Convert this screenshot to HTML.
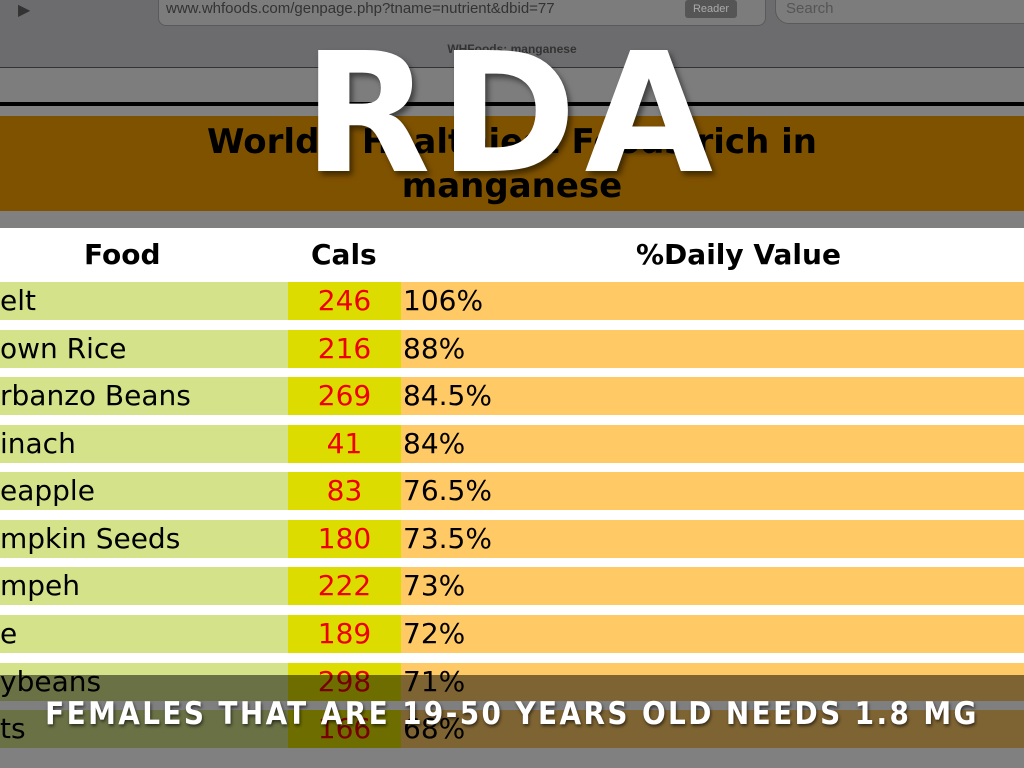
<!DOCTYPE html>
<html><head><style>
body{margin:0;width:1024px;height:768px;overflow:hidden;background:#808080;font-family:"DejaVu Sans","Liberation Sans",sans-serif;position:relative}
.a{position:absolute}
.row{position:absolute;left:0;width:1024px;height:38px;font-size:28px;line-height:38px;color:#000}
.f{position:absolute;left:0;width:288px;height:38px;background:#d4e38a}
.c{position:absolute;left:288px;width:113px;height:38px;background:#dcdc00;color:#e00;text-align:center}
.v{position:absolute;left:401px;right:0;height:38px;background:#ffc966;padding-left:2px}
</style></head><body>
<div class="a" style="left:0;top:0;width:1024px;height:68px;background:#6c6c6f"></div>
<div class="a" style="left:158px;top:-12px;width:606px;height:36px;border-radius:8px;background:#7c7c7c;border:1px solid #5a5a5a"></div>
<div class="a" style="left:166px;top:0;font-family:'Liberation Sans',sans-serif;font-size:15px;color:#333">www.whfoods.com/genpage.php?tname=nutrient&amp;dbid=77</div>
<div class="a" style="left:685px;top:0;width:52px;height:18px;background:#555;border-radius:3px;color:#aaa;font:11px 'Liberation Sans',sans-serif;text-align:center;line-height:18px">Reader</div>
<div class="a" style="left:18px;top:0;font-size:16px;color:#333">▶</div>
<div class="a" style="left:775px;top:-12px;width:260px;height:34px;border-radius:14px;background:#7c7c7c;border:1px solid #5a5a5a"></div>
<div class="a" style="left:786px;top:0;font:15px 'Liberation Sans',sans-serif;color:#555">Search</div>
<div class="a" style="left:0;top:42px;width:1024px;text-align:center;font:bold 12px 'Liberation Sans',sans-serif;color:#333">WHFoods: manganese</div>
<div class="a" style="left:0;top:67px;width:1024px;height:1px;background:#333"></div>
<div class="a" style="left:0;top:68px;width:1024px;height:34px;background:#7d7d7d"></div>
<div class="a" style="left:0;top:102px;width:1024px;height:4px;background:#000"></div>
<div class="a" style="left:0;top:106px;width:1024px;height:10px;background:#808080"></div>
<div class="a" style="left:0;top:116px;width:1024px;height:95px;background:#7f5200;text-align:center;font-weight:bold;font-size:34px;line-height:44px;padding-top:4px;box-sizing:border-box">World's Healthiest Foods rich in<br>manganese</div>
<div class="a" style="left:0;top:228px;width:1024px;height:520px;background:#fff"></div>
<div class="a" style="left:0;top:238px;font-weight:bold;font-size:28px;width:1024px">
<span class="a" style="left:84px">Food</span><span class="a" style="left:311px">Cals</span><span class="a" style="left:636px">%Daily Value</span></div>

<div class="row" style="top:282px"><div class="f">elt</div><div class="c">246</div><div class="v">106%</div></div>
<div class="row" style="top:330px"><div class="f">own Rice</div><div class="c">216</div><div class="v">88%</div></div>
<div class="row" style="top:377px"><div class="f">rbanzo Beans</div><div class="c">269</div><div class="v">84.5%</div></div>
<div class="row" style="top:425px"><div class="f">inach</div><div class="c">41</div><div class="v">84%</div></div>
<div class="row" style="top:472px"><div class="f">eapple</div><div class="c">83</div><div class="v">76.5%</div></div>
<div class="row" style="top:520px"><div class="f">mpkin Seeds</div><div class="c">180</div><div class="v">73.5%</div></div>
<div class="row" style="top:567px"><div class="f">mpeh</div><div class="c">222</div><div class="v">73%</div></div>
<div class="row" style="top:615px"><div class="f">e</div><div class="c">189</div><div class="v">72%</div></div>
<div class="row" style="top:663px"><div class="f">ybeans</div><div class="c">298</div><div class="v">71%</div></div>
<div class="row" style="top:710px"><div class="f">ts</div><div class="c">166</div><div class="v">68%</div></div>
<div class="a" style="left:0;top:748px;width:1024px;height:20px;background:#808080"></div>
<div class="a" style="left:0;top:675px;width:1024px;height:73px;background:rgba(0,0,0,0.5)"></div>
<div class="a" style="left:0;top:696px;width:1024px;text-align:center;color:#fff;font-family:'DejaVu Sans Condensed','DejaVu Sans',sans-serif;font-weight:bold;font-size:31px;letter-spacing:2.4px;text-shadow:1px 2px 3px rgba(0,0,0,.6)">FEMALES THAT ARE 19-50 YEARS OLD NEEDS 1.8 MG</div>
<div class="a" style="left:0;top:30px;width:1024px;text-align:center;color:#fff;font-family:'DejaVu Sans',sans-serif;font-weight:bold;font-size:166px;line-height:170px;letter-spacing:8px;text-shadow:3px 4px 6px rgba(0,0,0,.5)">RDA</div>
</body></html>
